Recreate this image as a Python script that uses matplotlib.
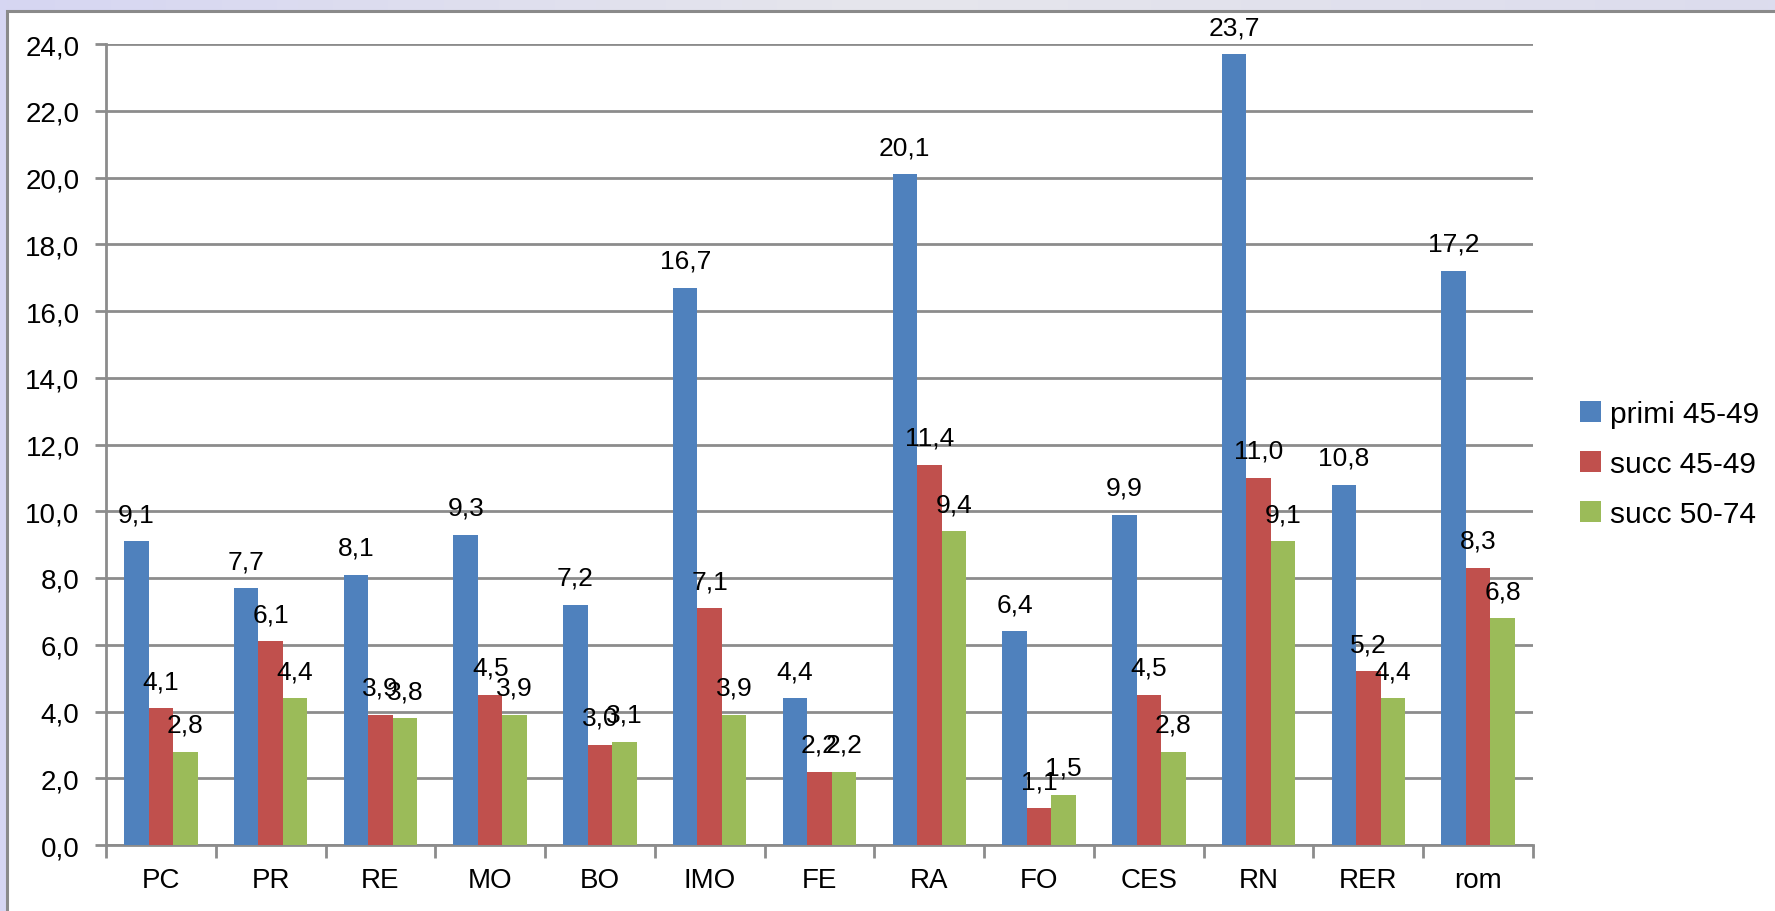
import matplotlib
matplotlib.use("Agg")
import matplotlib.pyplot as plt
import numpy as np
from matplotlib.patches import Rectangle, Patch
from matplotlib.ticker import FuncFormatter, FixedLocator
from matplotlib.colors import LinearSegmentedColormap

categories = ["PC", "PR", "RE", "MO", "BO", "IMO", "FE", "RA", "FO", "CES", "RN", "RER", "rom"]
primi_45_49 = [9.1, 7.7, 8.1, 9.3, 7.2, 16.7, 4.4, 20.1, 6.4, 9.9, 23.7, 10.8, 17.2]
succ_45_49 = [4.1, 6.1, 3.9, 4.5, 3.0, 7.1, 2.2, 11.4, 1.1, 4.5, 11.0, 5.2, 8.3]
succ_50_74 = [2.8, 4.4, 3.8, 3.9, 3.1, 3.9, 2.2, 9.4, 1.5, 2.8, 9.1, 4.4, 6.8]
series_names = ["primi 45-49", "succ 45-49", "succ 50-74"]
colors = ["#4F81BD", "#C0504D", "#9BBB59"]

plt.rcParams['font.family'] = ['Liberation Sans', 'DejaVu Sans']

W, H = 1775, 912
fig = plt.figure(figsize=(W / 100, H / 100), dpi=100)

# background gradient
bg = fig.add_axes([0, 0, 1, 1], zorder=-10)
grad = np.linspace(0, 1, 256)[None, :]
cmap = LinearSegmentedColormap.from_list("bg", ["#d6d6f2", "#e6e6ec", "#dcdcee"])
bg.imshow(grad, aspect="auto", cmap=cmap, extent=[0, 1, 0, 1])
bg.add_patch(Rectangle((7 / W, -0.1), 1.2, 1 - 12 / H + 0.1, transform=bg.transAxes,
                       facecolor="white", edgecolor="#8a8a8a", linewidth=2.2))
bg.set_xlim(0, 1)
bg.set_ylim(0, 1)
bg.axis("off")

L, R, T, B = 106, 1533, 45, 846
ax = fig.add_axes([L / W, 1 - B / H, (R - L) / W, (B - T) / H])
ax.set_facecolor("none")

x = np.arange(len(categories))
bw = 0.223
data = [primi_45_49, succ_45_49, succ_50_74]
for i, (vals, c, name) in enumerate(zip(data, colors, series_names)):
    pos = x + (i - 1) * bw
    ax.bar(pos, vals, width=bw, color=c, label=name, zorder=3)
    for xp, v in zip(pos, vals):
        ax.annotate(f"{v:.1f}".replace(".", ","), (xp, v), xytext=(0, 14.4),
                    textcoords="offset points", ha="center", va="baseline",
                    fontsize=19, color="black", zorder=5)

ax.set_xlim(-0.5, len(categories) - 0.5)
ax.set_ylim(0, 24)
ax.set_yticks(np.arange(0, 25, 2))
ax.yaxis.set_major_formatter(FuncFormatter(lambda v, p: f"{v:.1f}".replace(".", ",")))
ax.grid(axis="y", color="#8c8c8c", linewidth=2, zorder=0)
ax.set_axisbelow(True)

ax.set_xticks(x)
ax.set_xticklabels(categories)
ax.xaxis.set_minor_locator(FixedLocator(np.arange(-0.5, len(categories), 1)))
ax.tick_params(axis="x", which="major", length=0, pad=16, labelsize=20)
ax.tick_params(axis="x", which="minor", length=9, width=2, color="#8c8c8c")
ax.tick_params(axis="y", length=8, width=2, color="#8c8c8c", labelsize=20, pad=11)

for s in ["top", "right"]:
    ax.spines[s].set_visible(False)
for s in ["left", "bottom"]:
    ax.spines[s].set_color("#8c8c8c")
    ax.spines[s].set_linewidth(2)

handles = [Patch(facecolor=c, edgecolor="none") for c in colors]
fig.legend(handles, series_names, loc="center left", bbox_to_anchor=(1556 / W, 1 - 465 / H),
           frameon=False, fontsize=21.5, handlelength=0.7, handleheight=0.7,
           handletextpad=0.3, labelspacing=0.74, borderpad=0.3)

fig.savefig("out.png", dpi=100)
